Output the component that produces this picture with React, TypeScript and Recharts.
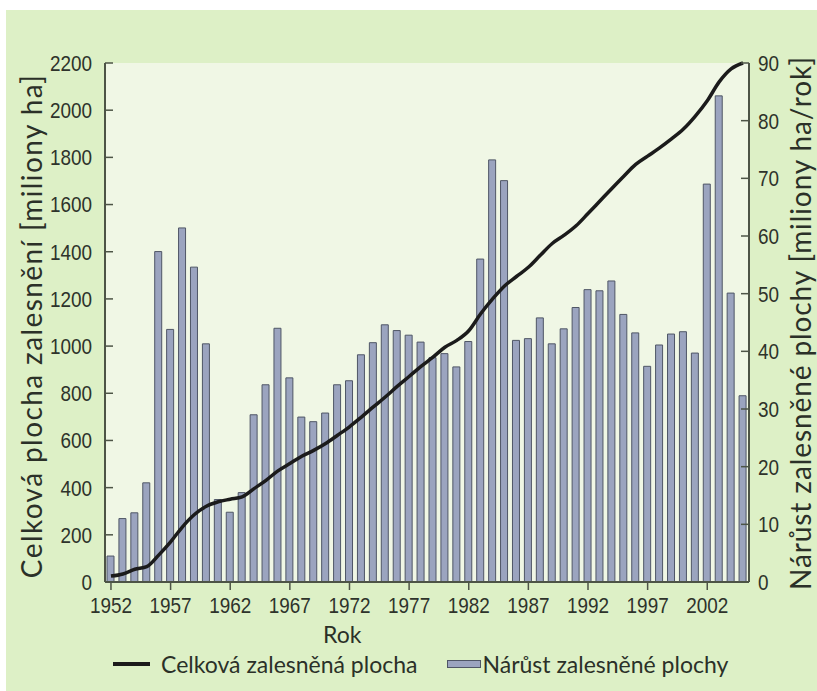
import { ComposedChart, Bar, Line, XAxis, YAxis, CartesianGrid } from 'recharts';

const YEARS = [
  '1952', '1953', '1954', '1955', '1956', '1957', '1958', '1959', '1960', '1961',
  '1962', '1963', '1964', '1965', '1966', '1967', '1968', '1969', '1970', '1971',
  '1972', '1973', '1974', '1975', '1976', '1977', '1978', '1979', '1980', '1981',
  '1982', '1983', '1984', '1985', '1986', '1987', '1988', '1989', '1990', '1991',
  '1992', '1993', '1994', '1995', '1996', '1997', '1998', '1999', '2000', '2001',
  '2002', '2003', '2004', '2005',
];

// Nárůst zalesněné plochy [miliony ha/rok] – right axis
const GROWTH = [
  4.5, 11, 12, 17.2, 57.3, 43.8, 61.4, 54.6, 41.3, 14.3,
  12.1, 15.5, 29, 34.2, 44, 35.4, 28.6, 27.8, 29.3, 34.2,
  34.9, 39.4, 41.5, 44.6, 43.6, 42.8, 41.6, 38.9, 39.6, 37.3,
  41.7, 56, 73.2, 69.6, 41.9, 42.2, 45.8, 41.3, 43.9, 47.6,
  50.7, 50.5, 52.2, 46.4, 43.2, 37.4, 41.1, 43, 43.4, 39.7,
  69, 84.3, 50.1, 32.3,
];

// Celková zalesněná plocha [miliony ha] – left axis
const TOTAL = [
  25, 34, 54, 65, 114, 170, 234, 286, 321, 340,
  351, 361, 396, 431, 471, 502, 533, 558, 587, 622,
  658, 699, 742, 784, 829, 871, 914, 953, 995, 1024,
  1065, 1137, 1200, 1255, 1295, 1334, 1385, 1435, 1470, 1510,
  1562, 1615, 1668, 1720, 1770, 1805, 1840, 1878, 1920, 1975,
  2040, 2120, 2175, 2200,
];

const LEFT_TICKS = [0, 200, 400, 600, 800, 1000, 1200, 1400, 1600, 1800, 2000, 2200];
const RIGHT_TICKS = [0, 10, 20, 30, 40, 50, 60, 70, 80, 90];

const data = YEARS.map((year, i) => ({ year, growth: GROWTH[i], total: TOTAL[i] }));

const AXIS = '#4d5446';
const TEXT = '#2b3028';
const TITLE_FONT = 'Lato, "Open Sans", sans-serif';
const tickStyle = { fontSize: 22, fill: '#2e332b', fontFamily: '"Liberation Sans", Arial, sans-serif' };

// condensed look of the original tick labels
function narrowTick(anchor: string, dy: string) {
  return (props: any) => {
    const { x, y, payload } = props;
    return (
      <text transform={`translate(${x},${y}) scale(0.86,1)`} textAnchor={anchor} dy={dy} style={tickStyle}>
        {payload.value}
      </text>
    );
  };
}

export default function App() {
  return (
    <div style={{ position: 'absolute', left: 0, top: 0, width: 817, height: 691, background: '#fff', overflow: 'hidden' }}>
      <div style={{ position: 'absolute', left: 6, top: 10, right: 0, bottom: 0, background: '#ddf0c6' }} />
      <div style={{ position: 'absolute', left: 0, top: 0 }}>
        <ComposedChart width={817} height={691} data={data} margin={{ top: 63, right: 0, left: 0, bottom: 79 }}>
          <CartesianGrid horizontal={false} vertical={false} fill="#f0f7e5" stroke="none" />
          <XAxis
            dataKey="year"
            interval={4}
            height={30}
            tick={narrowTick('middle', '0.95em')}
            tickSize={8}
            tickMargin={2}
            axisLine={{ stroke: AXIS, strokeWidth: 2 }}
            tickLine={{ stroke: AXIS, strokeWidth: 1.5 }}
          />
          <YAxis
            yAxisId="left"
            orientation="left"
            width={105}
            domain={[0, 2200]}
            ticks={LEFT_TICKS}
            interval={0}
            tick={narrowTick('end', '0.36em')}
            tickSize={-8}
            tickMargin={21}
            axisLine={{ stroke: AXIS, strokeWidth: 2 }}
            tickLine={{ stroke: AXIS, strokeWidth: 1.5 }}
            label={{
              content: () => (
                <text x={31} y={326} transform="rotate(-90 31 326)" textAnchor="middle" dominantBaseline="central"
                  style={{ fontSize: 28, letterSpacing: 1.4, fill: TEXT, fontFamily: TITLE_FONT }}>
                  Celková plocha zalesnění [miliony ha]
                </text>
              ),
            }}
          />
          <YAxis
            yAxisId="right"
            orientation="right"
            width={68}
            domain={[0, 90]}
            ticks={RIGHT_TICKS}
            interval={0}
            tick={narrowTick('start', '0.36em')}
            tickSize={-8}
            tickMargin={17}
            axisLine={{ stroke: AXIS, strokeWidth: 2 }}
            tickLine={{ stroke: AXIS, strokeWidth: 1.5 }}
            label={{
              content: () => (
                <text x={800} y={323} transform="rotate(-90 800 323)" textAnchor="middle" dominantBaseline="central"
                  style={{ fontSize: 28, letterSpacing: 0.9, fill: TEXT, fontFamily: TITLE_FONT }}>
                  Nárůst zalesněné plochy [miliony ha/rok]
                </text>
              ),
            }}
          />
          <Bar yAxisId="right" dataKey="growth" barSize={7} fill="#9ba4bf" stroke="#4f5666" strokeWidth={1} isAnimationActive={false} />
          <Line yAxisId="left" type="monotone" dataKey="total" stroke="#1b1b1b" strokeWidth={3.5} dot={false} activeDot={false} isAnimationActive={false} />
        </ComposedChart>
      </div>
      <div style={{ position: 'absolute', left: 323, top: 620, fontSize: 23, fontFamily: TITLE_FONT, color: TEXT }}>Rok</div>
      <div style={{ position: 'absolute', left: 113, top: 650, display: 'flex', alignItems: 'center', fontSize: 23, fontFamily: TITLE_FONT, color: TEXT }}>
        <span style={{ display: 'inline-block', width: 37, height: 4, background: '#1b1b1b', marginRight: 11 }} />
        <span>Celková zalesněná plocha</span>
        <span style={{ display: 'inline-block', width: 32, height: 6, background: '#9ba4bf', border: '1px solid #4f5666', marginLeft: 30, marginRight: 1 }} />
        <span>Nárůst zalesněné plochy</span>
      </div>
    </div>
  );
}
